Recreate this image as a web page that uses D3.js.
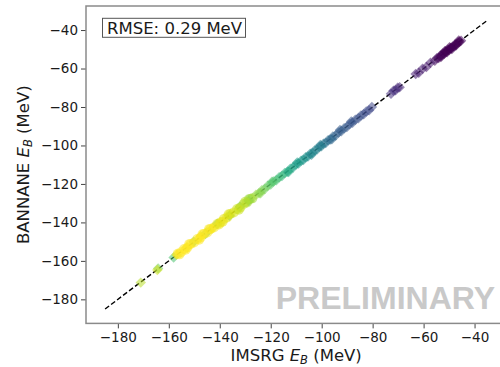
<!DOCTYPE html>
<html><head><meta charset="utf-8">
<script src="https://cdn.jsdelivr.net/npm/d3@7"></script>
<style>
html,body{margin:0;padding:0;background:#fff;}
svg{display:block;}
text{font-family:"DejaVu Sans",sans-serif;}
</style></head>
<body>
<svg id="chart" width="500" height="367"></svg>
<script>
// ---- data ----
const xTicks = [-180, -160, -140, -120, -100, -80, -60, -40];
const yTicks = [-180, -160, -140, -120, -100, -80, -60, -40];
const diagonal = [-185, -35];

// diamond markers: IMSRG E_B, BANNANE E_B, colour value (mass number estimate)
const imsrgD = [-45.3,-45.9,-46.5,-47.0,-47.6,-48.1,-48.6,-49.1,-49.5,-50.0,-50.5,-51.0,-51.4,-51.9,-52.4,-52.9,-53.5,-54.1,-54.8,-55.6,
  -46.2,-47.3,-49.8,-51.7,-53.2,-50.8,-48.9,
  -57.3,-58.9,-60.4,-61.9,-63.1,
  -69.4,-70.2,-71.0,-71.8,-72.8,
  -80.3,-81.4,-82.5,-83.5,-84.6,-85.6,-86.8,-87.9,-89.0,-90.1,-91.2,-92.3,-93.4,-94.5,-95.6,-96.6,-97.5,-98.4,
  -88.4,-92.8,-96.0,
  -99.3,-100.1,-100.9,-101.8,-102.7,-103.6,-104.5,-105.4,-106.3,
  -100.5,-104.0,
  -107.2,-108.1,-109.1,-110.1,-111.2,-112.3,-113.4,-114.5,-115.6,-116.7,
  -109.6,-113.0,
  -117.8,-118.9,-120.0,-121.2,-122.3,-123.5,-124.6,-125.8,
  -119.5,-124.0,
  -128.6,-132.1,-136.2,-141.0,-145.6,-150.2,-158.1,-164.2,
  -143.0,-147.5,-152.8,-157.0,-164.5,-171.0];
const bannaneD = [-45.6,-46.1,-46.3,-47.4,-47.5,-48.4,-48.5,-49.5,-49.3,-50.4,-50.3,-51.3,-51.2,-52.3,-52.2,-53.2,-53.4,-54.5,-54.6,-55.9,
  -45.4,-48.0,-49.0,-51.0,-54.0,-51.6,-49.9,
  -57.0,-59.2,-60.1,-62.2,-62.8,
  -69.7,-70.0,-71.3,-71.6,-73.1,
  -80.0,-81.7,-82.3,-83.8,-84.4,-85.9,-86.6,-88.2,-88.8,-90.4,-91.0,-92.6,-93.2,-94.8,-95.4,-96.9,-97.3,-98.7,
  -87.6,-92.0,-96.8,
  -99.1,-100.4,-100.7,-102.1,-102.5,-103.9,-104.3,-105.7,-106.1,
  -99.8,-104.8,
  -107.5,-107.9,-109.4,-109.9,-111.5,-112.1,-113.7,-114.3,-115.9,-116.5,
  -108.9,-113.8,
  -118.1,-118.7,-120.3,-121.0,-122.6,-123.3,-124.9,-125.6,
  -118.8,-124.8,
  -128.9,-131.8,-136.5,-140.7,-145.9,-150.0,-158.3,-164.0,
  -143.3,-147.2,-153.1,-156.8,-164.8,-171.3];
const massD = [6.3,6,6,6,6,6,6,6,6,6,6,6,6,6,6.2,6.2,6.3,6.3,6.5,6.5,
  6,6,6,6,6.1,6,6.1,
  7,7,7.2,7.2,7.3,
  7.6,7.6,7.8,7.8,8,
  9,9,9.2,9.2,9.4,9.4,9.6,9.6,9.8,9.8,10,10,10.2,10.3,10.5,10.8,11,11,
  9.7,10.1,10.6,
  11.6,11.8,12,12.1,12.3,12.4,12.6,12.8,13,
  11.8,12.5,
  13.2,13.4,13.6,13.8,14,14.3,14.6,14.9,15.2,15.5,
  13.7,14.5,
  15.8,16,16.3,16.6,16.9,17.2,17.5,17.8,
  16.2,17.4,
  14.5,15,15.2,15.5,14.8,16,16,17,
  19.5,19,19.5,19.5,19,18.5];

// circle markers
const imsrgC = [-127.2,-128.0,-129.3,-130.6,-131.9,-133.2,-134.5,-135.8,-137.1,-138.4,-139.7,-141.0,-142.3,-143.6,-144.9,-146.2,-147.5,-148.8,-150.1,-151.4,-152.7,-154.0,-155.2,-156.5,
  -128.6,-132.5,-136.5,-140.3,-144.2,-148.1,-152.0,-155.8,-130.0,-138.9,-146.8,-153.4];
const bannaneC = [-127.5,-127.8,-129.6,-130.4,-132.2,-133.0,-134.8,-135.6,-137.4,-138.2,-140.0,-140.8,-142.6,-143.4,-145.2,-146.0,-147.8,-148.6,-150.4,-151.2,-153.0,-153.8,-155.5,-156.3,
  -128.0,-133.4,-135.8,-141.1,-143.5,-149.0,-151.3,-156.6,-129.3,-139.6,-146.2,-154.2];
const massC = [18,18.2,18.4,18.6,18.8,19,19.1,19.2,19.4,19.5,19.6,19.7,19.8,19.9,19.9,20,20,20,20,20,20,20,20,20,
  17.8,18.9,19.3,19.6,19.8,20,20,20,18.5,19.5,20,20];

const rmseText = "RMSE: 0.29 MeV";
const watermark = "PRELIMINARY";

// ---- drawing ----
(function () {
const svg = d3.select("#chart");
const mL = 86, mR = 506.4, mT = 6, mB = 323.4;
const x = d3.scaleLinear().domain([-192.5, -27.5]).range([mL, mR]);
const y = d3.scaleLinear().domain([-192.5, -27.5]).range([mB, mT]);
const color = d3.scaleSequential(d3.interpolateViridis).domain([6, 20]);
const fmt = d => (d < 0 ? "\u2212" + Math.abs(d) : String(d));

// watermark
svg.append("text")
  .attr("x", 495).attr("y", 308.5)
  .attr("text-anchor", "end")
  .style("font-family", "'Liberation Sans', Arial, sans-serif")
  .style("font-weight", "bold")
  .style("font-size", "32px")
  .attr("fill", "#c9c9c9")
  .text(watermark);

// diagonal dashed line
svg.append("line")
  .attr("x1", x(diagonal[0])).attr("y1", y(diagonal[0]))
  .attr("x2", x(diagonal[1])).attr("y2", y(diagonal[1]))
  .attr("stroke", "#000").attr("stroke-width", 1.4)
  .attr("stroke-dasharray", "5,2.5");

const g = svg.append("g");
const diamonds = imsrgD.map((v, i) => ({x: v, y: bannaneD[i], a: massD[i]}));
const circles = imsrgC.map((v, i) => ({x: v, y: bannaneC[i], a: massC[i]}));
const dsym = d3.symbol().type(d3.symbolSquare).size(55);
g.selectAll("path.d").data(diamonds).join("path")
  .attr("class", "d")
  .attr("d", dsym)
  .attr("transform", d => `translate(${x(d.x)},${y(d.y)}) rotate(45)`)
  .attr("fill", d => color(d.a))
  .attr("fill-opacity", 0.55);
g.selectAll("circle").data(circles).join("circle")
  .attr("cx", d => x(d.x)).attr("cy", d => y(d.y)).attr("r", 5)
  .attr("fill", d => color(d.a))
  .attr("fill-opacity", 0.55);

// axes
const xAxis = svg.append("g").attr("transform", `translate(0,${mB})`)
  .call(d3.axisBottom(x).tickValues(xTicks).tickFormat(fmt).tickSize(5).tickPadding(4));
const yAxis = svg.append("g").attr("transform", `translate(${mL},0)`)
  .call(d3.axisLeft(y).tickValues(yTicks).tickFormat(fmt).tickSize(5).tickPadding(3));
[xAxis, yAxis].forEach(a => {
  a.select(".domain").remove();
  a.selectAll(".tick line").attr("stroke", "#444").attr("stroke-width", 1);
  a.selectAll(".tick text").attr("fill", "#1a1a1a")
    .style("font-family", "'DejaVu Sans', sans-serif").style("font-size", "13.5px");
});

// spines
svg.append("rect")
  .attr("x", mL).attr("y", mT)
  .attr("width", mR - mL).attr("height", mB - mT)
  .attr("fill", "none").attr("stroke", "#8a8a8a").attr("stroke-width", 1.5);

// RMSE box
svg.append("rect")
  .attr("x", 102.5).attr("y", 18.3).attr("width", 143).attr("height", 19)
  .attr("fill", "#fff").attr("stroke", "#555").attr("stroke-width", 1);
svg.append("text")
  .attr("x", 107).attr("y", 34.2)
  .style("font-size", "16.5px").attr("fill", "#1a1a1a")
  .text(rmseText);

// axis labels
function label(sel, prefix) {
  sel.append("tspan").text(prefix + " ");
  sel.append("tspan").style("font-style", "italic").text("E");
  sel.append("tspan").style("font-style", "italic").style("font-size", "11.5px").attr("dy", 3).text("B");
  sel.append("tspan").attr("dy", -3).text(" (MeV)");
}
const xl = svg.append("text")
  .attr("x", (mL + mR) / 2).attr("y", 361)
  .attr("text-anchor", "middle")
  .style("font-size", "16.5px").attr("fill", "#1a1a1a");
label(xl, "IMSRG");
const yl = svg.append("text")
  .attr("transform", `translate(29,${(mT + mB) / 2}) rotate(-90)`)
  .attr("text-anchor", "middle")
  .style("font-size", "16.5px").attr("fill", "#1a1a1a");
label(yl, "BANNANE");
})();
</script>
</body></html>
